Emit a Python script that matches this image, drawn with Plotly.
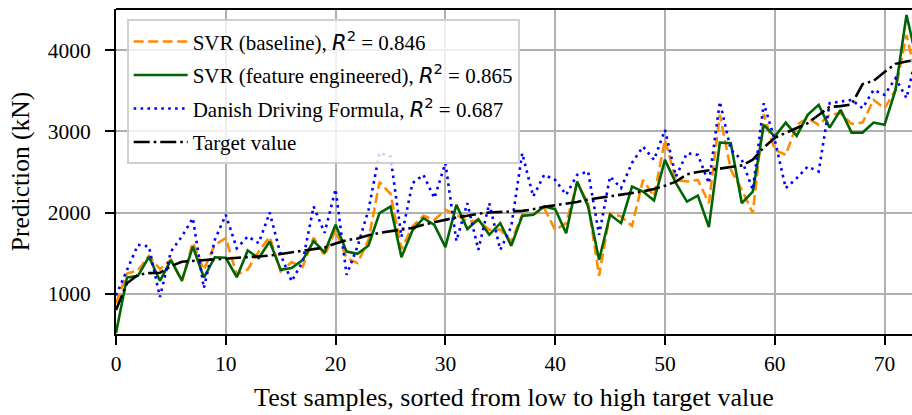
import plotly.graph_objects as go

# sample index (sorted from low to high target value)
samples = list(range(74))

target = [800, 1130, 1234, 1254, 1258, 1340, 1395, 1405, 1412, 1420,
          1435, 1440, 1450, 1460, 1470, 1490, 1510, 1530, 1555, 1570,
          1620, 1660, 1680, 1720, 1750, 1770, 1790, 1810, 1850, 1880,
          1910, 1940, 1960, 1985, 2000, 2005, 2010, 2020, 2040, 2070,
          2090, 2110, 2130, 2160, 2180, 2200, 2225, 2245, 2260, 2290,
          2330, 2380, 2470, 2500, 2520, 2540, 2560, 2580, 2650, 2800,
          2920, 2980, 3030, 3100, 3200, 3300, 3310, 3330, 3580, 3620,
          3730, 3830, 3860, 3880]

svr_baseline = [885, 1250, 1287, 1467, 1303, 1418, 1152, 1631, 1295, 1603,
                1685, 1234, 1300, 1520, 1700, 1275, 1390, 1330, 1690, 1470,
                1787, 1439, 1377, 1664, 2375, 2230, 1550, 1828, 1960, 1910,
                2033, 1972, 1890, 1900, 1787, 1790, 1644, 1972, 1972, 2054,
                1787, 1869, 2361, 2115, 1221, 1992, 1951, 1835, 2402, 2197,
                2894, 2402, 2382, 2402, 2115, 3202, 2525, 2279, 1992, 3210,
                2771, 2710, 3079, 3161, 3079, 3202, 3222, 3091, 3107, 3386,
                3284, 3509, 4186, 3600]

svr_fe = [516, 1200, 1220, 1455, 1160, 1415, 1165, 1580, 1200, 1450,
          1443, 1205, 1533, 1438, 1644, 1295, 1318, 1414, 1648, 1510,
          1849, 1520, 1492, 1594, 1992, 2074, 1450, 1780, 1931, 1849,
          1575, 2095, 1797, 1918, 1726, 1869, 1590, 1959, 1972, 2074,
          2041, 1746, 2382, 2074, 1418, 1972, 1869, 2320, 2258, 2148,
          2648, 2361, 2135, 2209, 1820, 2861, 2853, 2115, 2258, 3079,
          2935, 3107, 2943, 3202, 3325, 3045, 3263, 2984, 2984, 3107,
          3079, 3509, 4432, 3840]

danish = [980, 1295, 1603, 1582, 960, 1520, 1705, 1931, 1070, 1664,
          1972, 1560, 1705, 1623, 2000, 1480, 1152, 1400, 2074, 1750,
          2288, 1234, 1582, 2033, 2735, 2689, 1700, 2361, 2464, 2177,
          2610, 1650, 2115, 1541, 2115, 1541, 1828, 2730, 2197, 2464,
          2402, 2218, 2464, 2505, 1726, 2443, 2300, 2610, 2812, 2648,
          3017, 2443, 2730, 2710, 2361, 3365, 2771, 2648, 2279, 3345,
          2894, 2300, 2423, 2566, 2505, 3345, 3365, 3386, 3284, 3509,
          3448, 3653, 3407, 4000]

r2_values = ["0.846", "0.865", "0.687"]

def lab(name, val):
    return (f"{name}, <span style=\"font-family:'DejaVu Sans'\"><i>R</i><sup>2</sup></span>"
            f" = {val}")

fig = go.Figure()
fig.add_trace(go.Scatter(x=samples, y=svr_baseline, mode="lines",
                         name=lab("SVR (baseline)", r2_values[0]), legendgroup="a",
                         line=dict(color="#ff8c00", width=2.6, dash="10px,4.5px")))
fig.add_trace(go.Scatter(x=samples, y=svr_fe, mode="lines",
                         name=lab("SVR (feature engineered)", r2_values[1]), legendgroup="b",
                         line=dict(color="#006400", width=2.6)))
fig.add_trace(go.Scatter(x=samples, y=danish, mode="lines",
                         name=lab("Danish Driving Formula", r2_values[2]), legendgroup="c",
                         line=dict(color="#0000ff", width=2.6, dash="2.6px,4.3px")))
fig.add_trace(go.Scatter(x=samples, y=target, mode="lines",
                         name="Target value", legendgroup="d",
                         line=dict(color="#000000", width=2.6, dash="16px,4px,2.6px,4px")))

font_family = "Liberation Serif, Times New Roman, serif"

fig.update_layout(
    width=912, height=415,
    margin=dict(l=116, r=0, t=9, b=81, autoexpand=False),
    paper_bgcolor="white", plot_bgcolor="white",
    font=dict(family=font_family, size=21, color="black"),
    showlegend=True,
    legend=dict(x=0.0134, y=0.968, xanchor="left", yanchor="top",
                bgcolor="rgba(255,255,255,0.8)", bordercolor="#d0d0d0", borderwidth=2,
                font=dict(family=font_family, size=21), tracegroupgap=3.2,
                itemwidth=54, traceorder="grouped"),
)
fig.update_xaxes(range=[0, 72.5], tickvals=[0, 10, 20, 30, 40, 50, 60, 70],
                 showgrid=True, gridcolor="#b0b0b0", gridwidth=2,
                 showline=True, linecolor="black", linewidth=2, mirror=False,
                 ticks="outside", ticklen=9, tickwidth=2, tickcolor="black",
                 zeroline=False, tickfont=dict(size=21.5), automargin=False,
                 title=dict(text="Test samples, sorted from low to high target value",
                            font=dict(size=26), standoff=13))
fig.update_yaxes(range=[505, 4505], tickvals=[1000, 2000, 3000, 4000],
                 showgrid=True, gridcolor="#b0b0b0", gridwidth=2,
                 showline=True, linecolor="black", linewidth=2,
                 ticks="outside", ticklen=9, tickwidth=2, tickcolor="black",
                 ticklabelstandoff=10,
                 zeroline=False, tickfont=dict(size=21.5), automargin=False,
                 title=dict(text="Prediction (kN)", font=dict(size=25.5), standoff=11))
# top frame line
fig.add_shape(type="line", xref="paper", yref="paper", x0=0, x1=1, y0=1, y1=1,
              line=dict(color="black", width=2))

fig.write_html("out.html", config={"displayModeBar": False},
               post_script="document.body.style.margin='0';document.body.style.padding='0';"
                           "document.body.style.overflow='hidden';")
